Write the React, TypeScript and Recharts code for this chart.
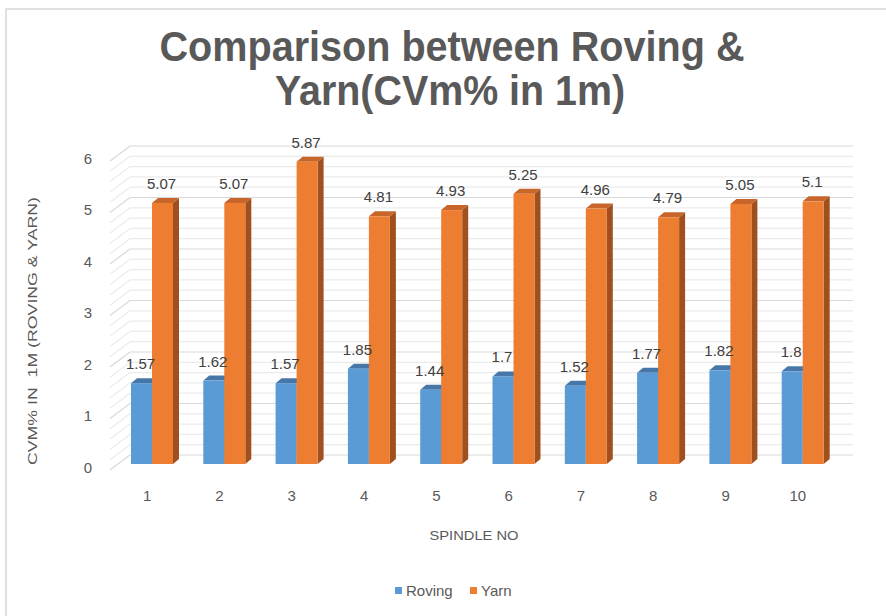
import { BarChart, Bar, XAxis, YAxis, CartesianGrid, LabelList } from 'recharts'

const categories = ['1', '2', '3', '4', '5', '6', '7', '8', '9', '10']
const roving = [1.57, 1.62, 1.57, 1.85, 1.44, 1.7, 1.52, 1.77, 1.82, 1.8]
const yarn = [5.07, 5.07, 5.87, 4.81, 4.93, 5.25, 4.96, 4.79, 5.05, 5.1]

// every 0.2 gets a (minor) wall line, whole numbers get the darker ones + labels
const gridTicks = [
  0, 0.2, 0.4, 0.6, 0.8, 1, 1.2, 1.4, 1.6, 1.8, 2, 2.2, 2.4, 2.6, 2.8, 3,
  3.2, 3.4, 3.6, 3.8, 4, 4.2, 4.4, 4.6, 4.8, 5, 5.2, 5.4, 5.6, 5.8, 6,
]

const data = categories.map((c, i) => ({ spindle: c, Roving: roving[i], Yarn: yarn[i] }))

const BLUE = '#5b9bd5'
const ORANGE = '#ed7d31'
const TEXT = '#595959'
const FONT = '"Liberation Sans", Arial, sans-serif'

// depth of the fake 3d box, relative to the plane the bars stand on
const BACK = { dx: 14, dy: -9 }
const FRONT = { dx: -6, dy: 6 }
const BAR_DEPTH = { dx: 6, dy: -5 }

function WallLine(props: any) {
  const { x1, y1, x2, index } = props
  const major = index % 5 === 0
  const stroke = major ? '#d9d9d9' : '#ebebeb'
  return (
    <g>
      <line
        x1={x1 + FRONT.dx}
        y1={y1 + FRONT.dy}
        x2={x1 + BACK.dx}
        y2={y1 + BACK.dy}
        stroke={stroke}
        strokeWidth={1.2}
      />
      <line
        x1={x1 + BACK.dx}
        y1={y1 + BACK.dy}
        x2={x2 + BACK.dx}
        y2={y1 + BACK.dy}
        stroke={stroke}
        strokeWidth={1.2}
      />
    </g>
  )
}

function makeBox(top: string, side: string) {
  return function Box(props: any) {
    const { x, y, width, height, fill } = props
    if (!height) return <g />
    const { dx, dy } = BAR_DEPTH
    return (
      <g>
        <polygon
          points={`${x + width},${y} ${x + width + dx},${y + dy} ${x + width + dx},${y + height + dy} ${x + width},${y + height}`}
          fill={side}
        />
        <polygon
          points={`${x},${y} ${x + width},${y} ${x + width + dx},${y + dy} ${x + dx},${y + dy}`}
          fill={top}
        />
        <rect x={x} y={y} width={width} height={height} fill={fill} />
      </g>
    )
  }
}

const RovingBox = makeBox('#4677a8', '#3f6d99')
const YarnBox = makeBox('#c8652a', '#a0501e')

function YTick(props: any) {
  const { x, y, payload } = props
  if (!Number.isInteger(payload.value)) return <g />
  return (
    <text x={x} y={y + 3} textAnchor="end" dominantBaseline="central" fill={TEXT} fontSize={15} fontFamily={FONT}>
      {payload.value}
    </text>
  )
}

function XTick(props: any) {
  const { x, y, payload } = props
  return (
    <text x={x - 5} y={y} dy="0.71em" textAnchor="middle" fill={TEXT} fontSize={15} fontFamily={FONT}>
      {payload.value}
    </text>
  )
}

function ValueLabel(props: any) {
  const { x, y, width, value } = props
  return (
    <text x={x + width / 2 - 1} y={y - 14} textAnchor="middle" fill="#404040" fontSize={15} fontFamily={FONT}>
      {value}
    </text>
  )
}

export default function App() {
  return (
    <div style={{ position: 'absolute', left: 0, top: 0, width: 886, height: 616, background: '#fff', overflow: 'hidden' }}>
      <div
        style={{
          position: 'absolute',
          left: 5,
          top: 8,
          width: 900,
          height: 620,
          borderTop: '2px solid #e0e0e0',
          borderLeft: '2px solid #e0e0e0',
        }}
      />
      <div style={{ position: 'absolute', left: 0, top: 0 }}>
        <BarChart
          width={886}
          height={616}
          data={data}
          margin={{ top: 155, right: 47, bottom: 112, left: 0 }}
          barGap={0}
          barSize={21}
        >
          <CartesianGrid vertical={false} horizontal={(p: any) => <WallLine {...p} />} />
          <XAxis
            dataKey="spindle"
            axisLine={false}
            tickLine={false}
            height={40}
            tickMargin={20}
            tick={<XTick />}
            interval={0}
          />
          <YAxis
            domain={[0, 6]}
            ticks={gridTicks}
            interval={0}
            axisLine={false}
            tickLine={false}
            width={116}
            tickMargin={18}
            tick={<YTick />}
          />
          <Bar dataKey="Roving" fill={BLUE} shape={<RovingBox />} isAnimationActive={false}>
            <LabelList dataKey="Roving" content={<ValueLabel />} />
          </Bar>
          <Bar dataKey="Yarn" fill={ORANGE} shape={<YarnBox />} isAnimationActive={false}>
            <LabelList dataKey="Yarn" content={<ValueLabel />} />
          </Bar>
        </BarChart>
      </div>
      <svg width={886} height={616} style={{ position: 'absolute', left: 0, top: 0, pointerEvents: 'none' }}>
        <text
          x={452}
          y={61}
          textAnchor="middle"
          fontSize={42}
          fontWeight="bold"
          fill={TEXT}
          fontFamily={FONT}
          textLength={585}
          lengthAdjust="spacingAndGlyphs"
        >
          Comparison between Roving &amp;
        </text>
        <text
          x={450}
          y={105}
          textAnchor="middle"
          fontSize={42}
          fontWeight="bold"
          fill={TEXT}
          fontFamily={FONT}
          textLength={350}
          lengthAdjust="spacingAndGlyphs"
        >
          Yarn(CVm% in 1m)
        </text>
        <text
          x={32}
          y={331}
          transform="rotate(-90 32 331)"
          textAnchor="middle"
          dominantBaseline="central"
          fontSize={13.5}
          fill={TEXT}
          fontFamily={FONT}
          textLength={268}
          lengthAdjust="spacingAndGlyphs"
          style={{ whiteSpace: 'pre' }}
        >
          {'CVM% IN  1M (ROVING & YARN)'}
        </text>
        <text
          x={474}
          y={540}
          textAnchor="middle"
          fontSize={13.5}
          fill={TEXT}
          fontFamily={FONT}
          textLength={89}
          lengthAdjust="spacingAndGlyphs"
        >
          SPINDLE NO
        </text>
        <rect x={395} y={587} width={7} height={7} fill={BLUE} />
        <text x={406} y={596} fontSize={15} fill={TEXT} fontFamily={FONT}>
          Roving
        </text>
        <rect x={470} y={587} width={7} height={7} fill={ORANGE} />
        <text x={481} y={596} fontSize={15} fill={TEXT} fontFamily={FONT}>
          Yarn
        </text>
      </svg>
    </div>
  )
}
